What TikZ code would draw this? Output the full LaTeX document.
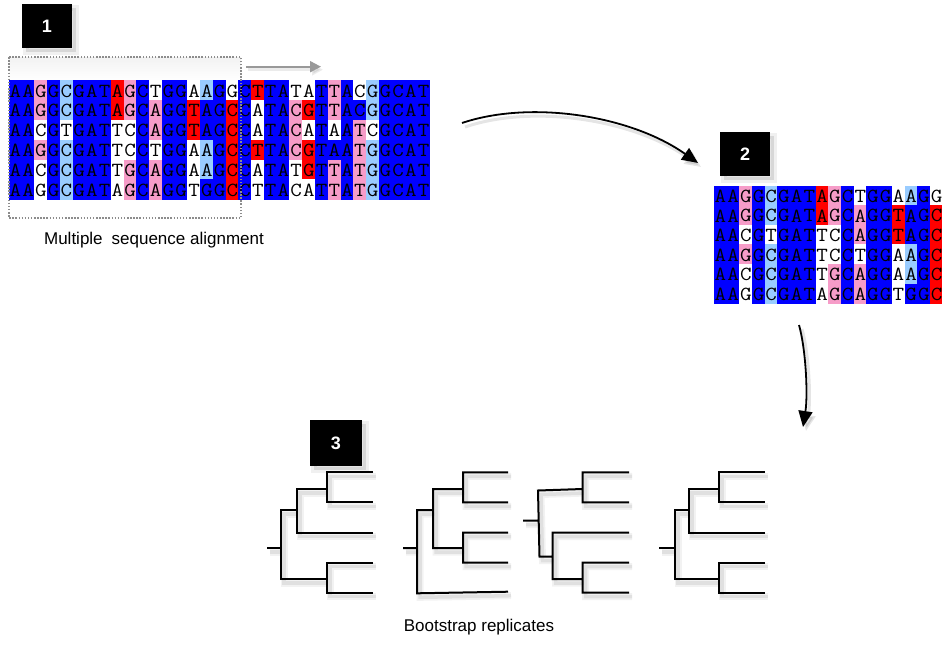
\documentclass[tikz,border=0pt]{standalone}
\usepackage{fontspec}
\setmainfont{Liberation Sans}
\usepackage{graphicx}
\usetikzlibrary{arrows.meta}

\definecolor{cellB}{RGB}{0,0,255}
\definecolor{cellP}{RGB}{246,156,200}
\definecolor{cellL}{RGB}{153,204,255}
\definecolor{cellR}{RGB}{255,0,0}
\definecolor{cellW}{RGB}{255,255,255}

\tikzset{
  seqch/.style={inner sep=0pt, font=\fontsize{20}{20}\selectfont\ttfamily, text=black},
  numbox/.style={fill=black, text=white, inner sep=0pt,
    minimum width=50pt, minimum height=44pt,
    font=\fontsize{18}{18}\selectfont\bfseries,
    preaction={fill=black, opacity=0.10, transform canvas={shift={(4pt,-4pt)}}},
    preaction={draw=black, opacity=0.06, line width=6pt, transform canvas={shift={(4pt,-4pt)}}}},
  caption/.style={inner sep=0pt, font=\fontsize{17}{20}\selectfont},
  treeline/.style={line width=2pt, line join=miter,
    preaction={draw=black, opacity=0.05, line width=7pt, transform canvas={shift={(3pt,-4pt)}}},
    preaction={draw=black, opacity=0.07, line width=3.5pt, transform canvas={shift={(3pt,-4pt)}}}},
  flowarrow/.style={line width=1.8pt, -{Triangle[length=16pt,width=14pt]},
    preaction={draw=black, opacity=0.10, line width=3pt, transform canvas={shift={(3pt,-4pt)}}}},
  grayarrow/.style={line width=2pt, draw=black!40, -{Triangle[length=11pt,width=11pt]},
    preaction={draw=black, opacity=0.08, line width=3pt, transform canvas={shift={(2pt,-3pt)}}}},
  windowbox/.style={draw=black!45, line width=1.5pt, dash pattern=on 1.5pt off 1.6pt}
}

% six aligned sequences: letter/background code for each column
\def\seqrows{%
 {A/B,A/B,G/P,G/B,C/L,G/B,A/B,T/B,A/R,G/P,C/B,T/W,G/B,G/B,A/W,A/L,G/B,G/W,C/B,T/R,T/B,A/B,T/W,A/W,T/B,T/P,A/B,C/W,G/L,G/B,C/B,A/B,T/B},%
 {A/B,A/B,G/P,G/B,C/L,G/B,A/B,T/B,A/R,G/P,C/B,A/P,G/B,G/B,T/R,A/B,G/B,C/R,C/B,A/W,T/B,A/B,C/P,G/R,T/B,T/P,A/B,C/B,G/L,G/B,C/B,A/B,T/B},%
 {A/B,A/B,C/W,G/B,T/W,G/B,A/B,T/B,T/W,C/W,C/B,A/P,G/B,G/B,T/R,A/B,G/B,C/R,C/B,A/W,T/B,A/B,C/P,A/W,T/B,A/W,A/B,T/P,C/W,G/B,C/B,A/B,T/B},%
 {A/B,A/B,G/P,G/B,C/L,G/B,A/B,T/B,T/W,C/W,C/B,T/W,G/B,G/B,A/W,A/L,G/B,C/R,C/B,T/R,T/B,A/B,C/P,G/R,T/B,A/B,A/B,T/P,G/L,G/B,C/B,A/B,T/B},%
 {A/B,A/B,C/W,G/B,C/L,G/B,A/B,T/B,T/W,G/P,C/B,A/P,G/B,G/B,A/W,A/L,G/B,C/R,C/B,A/W,T/B,A/B,T/W,G/R,T/B,T/P,A/B,T/P,G/L,G/B,C/B,A/B,T/B},%
 {A/B,A/B,G/W,G/B,C/L,G/B,A/B,T/B,A/W,G/P,C/B,A/P,G/B,G/B,T/W,G/B,G/B,C/R,C/B,T/W,T/B,A/B,C/W,A/W,T/B,T/P,A/B,T/P,G/L,G/B,C/B,A/B,T/B}}

% #1 name prefix, #2 left, #3 top, #4 column width, #5 row height
\newcommand\seqblock[5]{%
  \foreach \rowlist [count=\r] in \seqrows {
    \foreach \ch/\cl [count=\i from 0] in \rowlist {
      \fill[fill=cell\cl] ({#2+\i*#4-0.25},{#3+(\r-1)*#5-0.25}) rectangle ++({#4+0.5},{#5+0.5});
    }
  }
  \foreach \rowlist [count=\r] in \seqrows {
    \foreach \ch/\cl [count=\i from 0] in \rowlist {
      \node[seqch] (#1-\r-\i) at ({#2+(\i+0.5)*#4},{#3+(\r-0.5)*#5+0.5}) {\scalebox{1.12}[1]{\ch}};
    }
  }}

\begin{document}
\begin{tikzpicture}[x=1pt, y=-1pt]
\useasboundingbox (0,0) rectangle (942,645);
\fill[white] (0,0) rectangle (942,645);

% ---------- step 1: the alignment and the sampling window ----------
\shade[top color=black!5, bottom color=white] (9,57) rectangle (241,80);
\seqblock{aln}{9}{80.5}{12.76}{19.83}
\draw[windowbox] (9,57) rectangle (241,218);
\coordinate (win0) at (246,66.7);
\coordinate (win1) at (321,66.7);
\draw[grayarrow] (win0) -- (win1);
\node[numbox] (n1) at (47,26) {1};
\node[caption] (cap1) at (154,240) {Multiple\hspace{9pt}sequence alignment};

% ---------- step 2: a resampled alignment ----------
\begin{scope}
  \clip (700,180) rectangle (942,310);
  \seqblock{boot}{714}{186}{12.72}{19.55}
\end{scope}
\node[numbox] (n2) at (745,154) {2};

% ---------- flow between the steps ----------
\coordinate (f1a) at (462,123);
\coordinate (f1b) at (698,163);
\draw[flowarrow] (f1a) .. controls (530,100) and (630,115) .. (f1b);
\coordinate (f2a) at (799,325);
\coordinate (f2b) at (803,427);
\draw[flowarrow] (f2a) .. controls (806,350) and (808,395) .. (f2b);

% ---------- step 3: one tree per replicate ----------
\node[numbox, minimum width=52pt, minimum height=46pt] (n3) at (336,443) {3};

% tree A
\draw[treeline] (267,548) -- (281,548)
  (297,510) -- (281,510) -- (281,579) -- (327,579)
  (373,532.5) -- (297,532.5) -- (297,489) -- (327,489)
  (373,472.3) -- (327,472.3) -- (327,502.3) -- (373,502.3)
  (373,562.5) -- (327,562.5) -- (327,592.7) -- (373,592.7);

% tree B
\draw[treeline] (403,548) -- (417,548)
  (433,510) -- (417,510) -- (417,593.3) -- (508,591.7)
  (463,489) -- (433,489) -- (433,548) -- (463,548)
  (508,472.3) -- (463,472.3) -- (463,502.3) -- (508,502.3)
  (508,532.5) -- (463,532.5) -- (463,562.5) -- (508,562.5);

% tree C
\draw[treeline] (523,520.7) -- (538,520.7)
  (582.7,489) -- (538,490.5) -- (539.5,556.7) -- (552.7,556.7)
  (629,472.3) -- (582.7,472.3) -- (582.7,502.3) -- (629,502.3)
  (629,532.5) -- (552.7,532.5) -- (552.7,579) -- (582.7,579)
  (629,562.5) -- (582.7,562.5) -- (582.7,592.7) -- (629,592.7);

% tree D (same topology as tree A)
\begin{scope}[shift={(392,0)}]
\draw[treeline] (267,548) -- (283,548)
  (297,510) -- (283,510) -- (283,579) -- (327,579)
  (373,532.5) -- (297,532.5) -- (297,489) -- (327,489)
  (373,472.3) -- (327,472.3) -- (327,502.3) -- (373,502.3)
  (373,562.5) -- (327,562.5) -- (327,592.7) -- (373,592.7);
\end{scope}

\node[caption] (cap3) at (479,627) {Bootstrap replicates};
\end{tikzpicture}
\end{document}
